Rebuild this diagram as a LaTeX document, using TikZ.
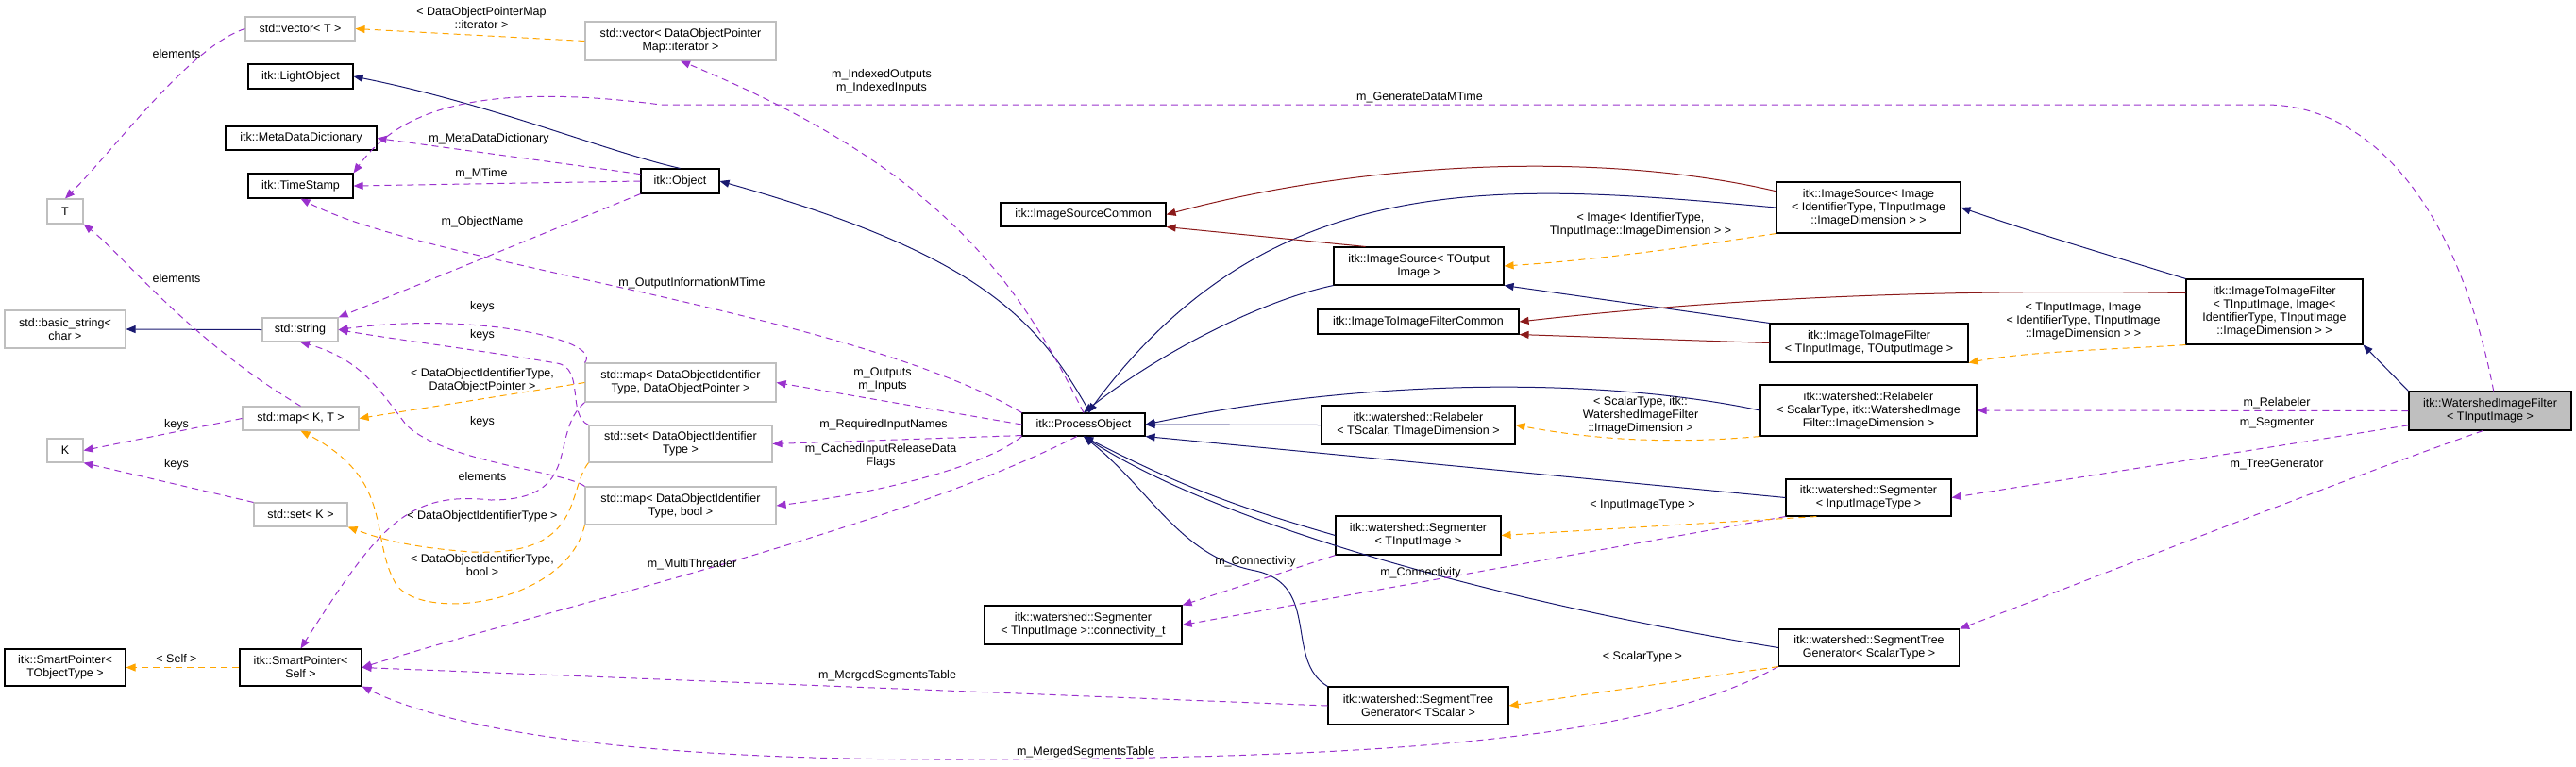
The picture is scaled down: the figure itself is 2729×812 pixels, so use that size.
\documentclass[tikz,border=0pt]{standalone}
\usepackage{fontspec}
\setmainfont{Liberation Sans}
\usetikzlibrary{arrows.meta}
\definecolor{nv}{HTML}{191970}
\definecolor{dr}{HTML}{8B1A1A}
\definecolor{pu}{HTML}{9A32CD}
\definecolor{orng}{HTML}{FFA500}
\definecolor{gb}{HTML}{BFBFBF}
\begin{document}
\begin{tikzpicture}[x=1pt,y=-1pt,
  bx/.style={draw=black,line width=1.1pt,rectangle,inner sep=0pt,align=center,font=\fontsize{12.5}{14}\selectfont},
  gx/.style={bx,draw=gb},
  lb/.style={inner sep=0pt,align=center,font=\fontsize{12.5}{14}\selectfont},
  tip/.style={-{Triangle[length=10pt,width=8pt]}},
  inh/.style={tip,draw=nv,line width=1pt},
  inr/.style={tip,draw=dr,line width=1pt},
  use/.style={tip,draw=pu,line width=1pt,dash pattern=on 7pt off 5pt},
  tpl/.style={tip,draw=orng,line width=1pt,dash pattern=on 7pt off 5pt}]
\useasboundingbox (0,0) rectangle (2729,812);
% nodes
\node[gx,minimum width=116,minimum height=25] (vt) at (318,30.5) {std::vector< T >};
\node[bx,minimum width=111,minimum height=26] (lo) at (318.5,81) {itk::LightObject};
\node[bx,minimum width=160,minimum height=25] (mdd) at (319,146.5) {itk::MetaDataDictionary};
\node[bx,minimum width=111,minimum height=26] (ts) at (318.5,197) {itk::TimeStamp};
\node[gx,minimum width=38,minimum height=26] (T) at (69,224) {T};
\node[gx,minimum width=128,minimum height=40] (bs) at (69,349) {std::basic\_string<\\char >};
\node[gx,minimum width=80,minimum height=25] (str) at (318,349.5) {std::string};
\node[gx,minimum width=123,minimum height=25] (mkt) at (318.5,443.5) {std::map< K, T >};
\node[gx,minimum width=38,minimum height=25] (K) at (69,477.5) {K};
\node[gx,minimum width=99,minimum height=25] (sk) at (318.5,545.5) {std::set< K >};
\node[bx,minimum width=128,minimum height=39] (spt) at (69,707.5) {itk::SmartPointer<\\TObjectType >};
\node[bx,minimum width=129,minimum height=39] (sps) at (318.5,707.5) {itk::SmartPointer<\\Self >};
\node[gx,minimum width=202,minimum height=41] (vdop) at (721,43.5) {std::vector< DataObjectPointer\\Map::iterator >};
\node[bx,minimum width=83,minimum height=26] (obj) at (720.5,192) {itk::Object};
\node[bx,minimum width=175,minimum height=25] (isc) at (1147.5,227.5) {itk::ImageSourceCommon};
\node[gx,minimum width=202,minimum height=41] (mdop) at (721,405.5) {std::map< DataObjectIdentifier\\Type, DataObjectPointer >};
\node[gx,minimum width=194,minimum height=39] (sdoi) at (721,470.5) {std::set< DataObjectIdentifier\\Type >};
\node[gx,minimum width=202,minimum height=40] (mdb) at (721,536) {std::map< DataObjectIdentifier\\Type, bool >};
\node[bx,minimum width=130,minimum height=24] (po) at (1148,450) {itk::ProcessObject};
\node[bx,minimum width=209,minimum height=41] (con) at (1147.5,662.5) {itk::watershed::Segmenter\\< TInputImage >::connectivity\_t};
\node[bx,minimum width=180,minimum height=40] (iso) at (1503,282) {itk::ImageSource< TOutput\\Image >};
\node[bx,minimum width=213,minimum height=26] (iifc) at (1502.5,341) {itk::ImageToImageFilterCommon};
\node[bx,minimum width=205,minimum height=41] (rlt) at (1502.5,450.5) {itk::watershed::Relabeler\\< TScalar, TImageDimension >};
\node[bx,minimum width=175,minimum height=41] (sgt) at (1502.5,567.5) {itk::watershed::Segmenter\\< TInputImage >};
\node[bx,minimum width=191,minimum height=40] (stt) at (1502.5,748) {itk::watershed::SegmentTree\\Generator< TScalar >};
\node[bx,minimum width=195,minimum height=54] (isi) at (1979.5,220) {itk::ImageSource< Image\\< IdentifierType, TInputImage\\::ImageDimension > >};
\node[bx,minimum width=210,minimum height=41] (iif) at (1980,363.5) {itk::ImageToImageFilter\\< TInputImage, TOutputImage >};
\node[bx,minimum width=229,minimum height=54] (rls) at (1979.5,435) {itk::watershed::Relabeler\\< ScalarType, itk::WatershedImage\\Filter::ImageDimension >};
\node[bx,minimum width=175,minimum height=39] (sgi) at (1979.5,527.5) {itk::watershed::Segmenter\\< InputImageType >};
\node[bx,minimum width=191,minimum height=39] (sts) at (1980,686.5) {itk::watershed::SegmentTree\\Generator< ScalarType >};
\node[bx,minimum width=187,minimum height=69] (iii) at (2409.5,330.5) {itk::ImageToImageFilter\\< TInputImage, Image<\\IdentifierType, TInputImage\\::ImageDimension > >};
\node[bx,fill=gb,minimum width=172,minimum height=41] (wif) at (2638,435.5) {itk::WatershedImageFilter\\< TInputImage >};
% navy inheritance
\draw[inh] (str.west) -- (bs.east);
\draw[inh] (obj.north) .. controls (640,160) and (520,110) .. (lo.east);
\draw[inh] (po.62) .. controls (1100,340) and (1040,270) .. (obj.east);
\draw[inh] (iso.south west) .. controls (1330,320) and (1220,380) .. (po.north);
\draw[inh] (isi.west) .. controls (1600,195) and (1350,170) .. (po.70);
\draw[inh] (iif.north west) -- (iso.south east);
\draw[inh] (iii.north west) .. controls (2200,260) and (2150,245) .. (isi.east);
\draw[inh] (wif.north west) -- (iii.south east);
\draw[inh] (rls.west) .. controls (1700,400) and (1450,400) .. (po.east);
\draw[inh] (rlt.west) -- (po.east);
\draw[inh] (sgi.west) -- (po.south east);
\draw[inh] (sgt.west) .. controls (1320,540) and (1260,520) .. (po.south);
\draw[inh] (sts.west) .. controls (1600,640) and (1300,560) .. (po.south);
\draw[inh] (stt.north west) .. controls (1360,700) and (1400,620) .. (1330,605) .. controls (1250,590) and (1220,520) .. (po.south);
% dark red
\draw[inr] (isi.170) .. controls (1700,160) and (1450,170) .. (isc.east);
\draw[inr] (iso.160) -- (isc.south east);
\draw[inr] (iii.168) .. controls (2150,308) and (1900,308) .. (iifc.east);
\draw[inr] (iif.west) -- (iifc.south east);
% purple usage
\draw[use] (vt.west) .. controls (200,50) and (120,160) .. (T.north);
\node[lb] (l1) at (187,57) {elements};
\draw[use] (mkt.north) .. controls (200,360) and (130,270) .. (T.south east);
\node[lb] (l2) at (187,295) {elements};
\draw[use] (mkt.west) -- (K.east);
\node[lb] (l3) at (187,450) {keys};
\draw[use] (sk.north west) -- (K.south east);
\node[lb] (l4) at (187,492) {keys};
\draw[use] (obj.west) -- (ts.east);
\node[lb] (l5) at (510,184) {m\_MTime};
\draw[use] (obj.170) -- (mdd.east);
\node[lb] (l6) at (518,147) {m\_MetaDataDictionary};
\draw[use] (obj.south west) -- (str.north east);
\node[lb] (l7) at (511,235) {m\_ObjectName};
\draw[use] (po.north west) .. controls (900,330) and (450,280) .. (ts.south);
\node[lb] (l8) at (733,300) {m\_OutputInformationMTime};
\draw[use] (wif.80) .. controls (2600,200) and (2500,111) .. (2400,111) -- (700,111) .. controls (500,85) and (420,120) .. (ts.north east);
\node[lb] (l9) at (1504,103) {m\_GenerateDataMTime};
\draw[use] (po.north) .. controls (1080,300) and (1000,180) .. (vdop.south);
\node[lb] (l10) at (934,86) {m\_IndexedOutputs\\m\_IndexedInputs};
\draw[use] (po.west) -- (mdop.east);
\node[lb] (l11) at (935,402) {m\_Outputs\\m\_Inputs};
\draw[use] (po.190) -- (sdoi.east);
\node[lb] (l12) at (936,450) {m\_RequiredInputNames};
\draw[use] (po.south west) .. controls (1050,490) and (950,520) .. (mdb.east);
\node[lb] (l13) at (933,483) {m\_CachedInputReleaseData\\Flags};
\draw[use] (po.240) .. controls (950,560) and (600,640) .. (sps.east);
\node[lb] (l14) at (733,598) {m\_MultiThreader};
\draw[use] (mdop.north west) .. controls (640,360) and (500,330) .. (str.east);
\node[lb] (l15) at (511,325) {keys};
\draw[use] (sdoi.north west) .. controls (600,440) and (620,390) .. (590,385) .. controls (500,370) and (420,360) .. (str.east);
\node[lb] (l16) at (511,355) {keys};
\draw[use] (mdb.north west) .. controls (600,500) and (470,490) .. (430,450) .. controls (400,410) and (380,380) .. (str.south);
\node[lb] (l17) at (511,447) {keys};
\draw[use] (mdop.south west) .. controls (580,460) and (620,530) .. (520,530) .. controls (430,520) and (400,560) .. (sps.north);
\node[lb] (l18) at (511,505) {elements};
\draw[use] (sgt.south west) -- (con.north east);
\node[lb] (l19) at (1330,595) {m\_Connectivity};
\draw[use] (sgi.south west) -- (con.east);
\node[lb] (l20) at (1505,607) {m\_Connectivity};
\draw[use] (stt.west) -- (sps.east);
\node[lb] (l21) at (940,716) {m\_MergedSegmentsTable};
\draw[use] (sts.south west) .. controls (1750,780) and (1500,805) .. (1000,805) .. controls (600,805) and (450,760) .. (sps.south east);
\node[lb] (l22) at (1150,797) {m\_MergedSegmentsTable};
\draw[use] (wif.west) -- (rls.east);
\node[lb] (l23) at (2412,427) {m\_Relabeler};
\draw[use] (wif.190) -- (sgi.east);
\node[lb] (l24) at (2412,448) {m\_Segmenter};
\draw[use] (wif.250) .. controls (2450,520) and (2200,620) .. (sts.north east);
\node[lb] (l25) at (2412,492) {m\_TreeGenerator};
% orange templates
\draw[tpl] (vdop.west) -- (vt.east);
\node[lb] (o1) at (510,19) {< DataObjectPointerMap\\::iterator >};
\draw[tpl] (mdop.west) -- (mkt.east);
\node[lb] (o2) at (511,403) {< DataObjectIdentifierType,\\DataObjectPointer >};
\draw[tpl] (sdoi.south west) .. controls (600,520) and (620,590) .. (500,585) .. controls (430,580) and (400,570) .. (sk.south east);
\node[lb] (o3) at (511,547) {< DataObjectIdentifierType >};
\draw[tpl] (mdb.south west) .. controls (600,640) and (450,660) .. (420,620) .. controls (390,570) and (420,510) .. (mkt.south);
\node[lb] (o4) at (511,599) {< DataObjectIdentifierType,\\bool >};
\draw[tpl] (sps.west) -- (spt.east);
\node[lb] (o5) at (187,698) {< Self >};
\draw[tpl] (isi.south west) .. controls (1800,260) and (1700,275) .. (iso.east);
\node[lb] (o6) at (1738,238) {< Image< IdentifierType,\\TInputImage::ImageDimension > >};
\draw[tpl] (iii.south west) .. controls (2250,370) and (2150,372) .. (iif.south east);
\node[lb] (o7) at (2207,340) {< TInputImage, Image\\< IdentifierType, TInputImage\\::ImageDimension > >};
\draw[tpl] (rls.south west) .. controls (1780,470) and (1700,468) .. (rlt.east);
\node[lb] (o8) at (1738,440) {< ScalarType, itk::\\WatershedImageFilter\\::ImageDimension >};
\draw[tpl] (sgi.200) -- (sgt.east);
\node[lb] (o9) at (1740,535) {< InputImageType >};
\draw[tpl] (sts.south west) -- (stt.east);
\node[lb] (o10) at (1740,696) {< ScalarType >};
\end{tikzpicture}
\end{document}
